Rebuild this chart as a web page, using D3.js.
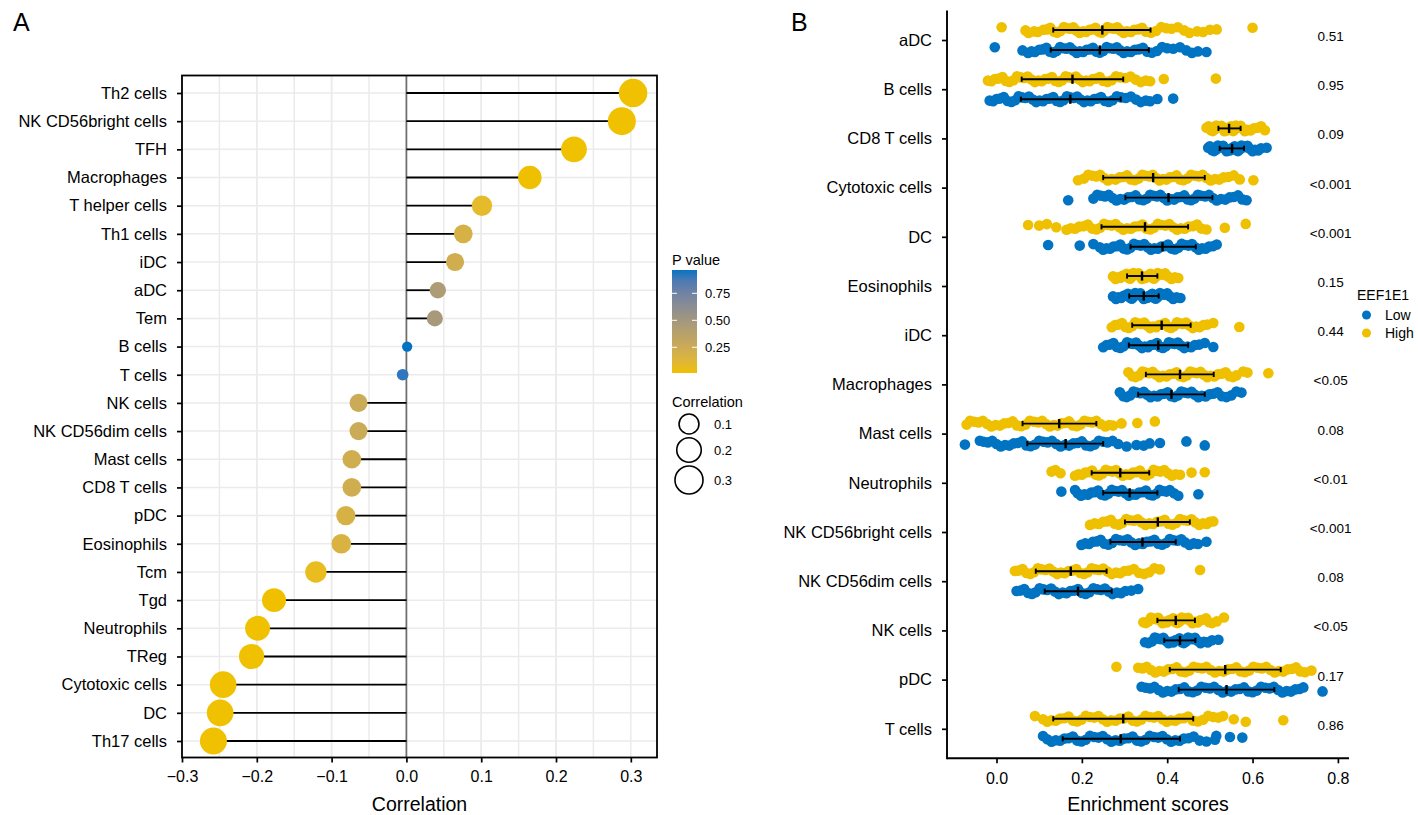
<!doctype html>
<html>
<head>
<meta charset="utf-8">
<title>Correlation and enrichment</title>
<script src="https://d3js.org/d3.v7.min.js"></script>
<style>
  body { margin: 0; background: #fff; }
  text { font-family: "Liberation Sans", Arial, sans-serif; fill: #000; }
</style>
</head>
<body>
<svg width="1418" height="815"></svg>
<script>
// ---- panel A data (top to bottom) ----
var cellsA = ["Th2 cells", "NK CD56bright cells", "TFH", "Macrophages", "T helper cells", "Th1 cells",
    "iDC", "aDC", "Tem", "B cells", "T cells", "NK cells", "NK CD56dim cells", "Mast cells",
    "CD8 T cells", "pDC", "Eosinophils", "Tcm", "Tgd", "Neutrophils", "TReg", "Cytotoxic cells",
    "DC", "Th17 cells"]
var corrA = [0.303, 0.288, 0.224, 0.165, 0.101, 0.076, 0.065, 0.042, 0.038, 0.001, -0.005, -0.064,
    -0.064, -0.073, -0.073, -0.081, -0.087, -0.121, -0.177, -0.199, -0.207, -0.245, -0.249, -0.258]
var pvalA = [0.001, 0.001, 0.001, 0.01, 0.08, 0.18, 0.22, 0.44, 0.47, 0.97, 0.93, 0.26, 0.26, 0.22,
    0.22, 0.18, 0.16, 0.05, 0.005, 0.001, 0.001, 0.001, 0.001, 0.001]
var xTicksA = [-0.3, -0.2, -0.1, 0.0, 0.1, 0.2, 0.3]
var pLegendTicks = [0.25, 0.50, 0.75]
var sizeLegend = [0.1, 0.2, 0.3]

// ---- panel B data ----
var cellsB = ["aDC", "B cells", "CD8 T cells", "Cytotoxic cells", "DC", "Eosinophils", "iDC",
    "Macrophages", "Mast cells", "Neutrophils", "NK CD56bright cells", "NK CD56dim cells",
    "NK cells", "pDC", "T cells"]
var groupsB = ["Low", "High"]
var pLabelsB = ["0.51", "0.95", "0.09", "<0.001", "<0.001", "0.15", "0.44", "<0.05", "0.08",
    "<0.01", "<0.001", "0.08", "<0.05", "0.17", "0.86"]
var xTicksB = [0.0, 0.2, 0.4, 0.6, 0.8]

// error bars: mean, mean - sd, mean + sd
var highMean = [0.248, 0.178, 0.545, 0.367, 0.348, 0.341, 0.387, 0.430, 0.147, 0.290, 0.378, 0.174, 0.420, 0.536, 0.297]
var highLo   = [0.133, 0.059, 0.520, 0.250, 0.246, 0.306, 0.318, 0.350, 0.061, 0.223, 0.301, 0.092, 0.377, 0.406, 0.133]
var highHi   = [0.361, 0.297, 0.572, 0.488, 0.449, 0.377, 0.455, 0.509, 0.234, 0.358, 0.453, 0.258, 0.465, 0.666, 0.461]
var lowMean  = [0.242, 0.173, 0.552, 0.403, 0.389, 0.345, 0.379, 0.410, 0.162, 0.312, 0.342, 0.191, 0.430, 0.539, 0.291]
var lowLo    = [0.127, 0.057, 0.523, 0.302, 0.314, 0.311, 0.310, 0.332, 0.072, 0.250, 0.267, 0.113, 0.393, 0.427, 0.155]
var lowHi    = [0.357, 0.291, 0.580, 0.506, 0.467, 0.380, 0.449, 0.488, 0.250, 0.377, 0.420, 0.270, 0.466, 0.651, 0.430]

var highScores = [
    [0.012, 0.068, 0.075, 0.088, 0.097, 0.11, 0.118, 0.126, 0.135, 0.142, 0.15, 0.158, 0.166, 0.172, 0.18, 0.187, 0.195, 0.203, 0.21, 0.218, 0.225, 0.232, 0.24, 0.246, 0.252, 0.26, 0.268, 0.275, 0.283, 0.29, 0.298, 0.306, 0.315, 0.323, 0.332, 0.341, 0.35, 0.362, 0.374, 0.386, 0.398, 0.41, 0.425, 0.44, 0.452, 0.47, 0.484, 0.5, 0.516, 0.6],
    [-0.02, -0.012, -0.004, 0.005, 0.014, 0.022, 0.03, 0.04, 0.048, 0.057, 0.065, 0.073, 0.082, 0.09, 0.098, 0.106, 0.114, 0.122, 0.13, 0.138, 0.146, 0.154, 0.162, 0.17, 0.178, 0.186, 0.194, 0.202, 0.21, 0.218, 0.226, 0.234, 0.242, 0.25, 0.26, 0.27, 0.28, 0.29, 0.302, 0.314, 0.326, 0.338, 0.35, 0.36, 0.392, 0.514],
    [0.492, 0.497, 0.502, 0.507, 0.511, 0.515, 0.519, 0.523, 0.527, 0.531, 0.534, 0.537, 0.54, 0.543, 0.546, 0.549, 0.552, 0.555, 0.558, 0.561, 0.564, 0.568, 0.572, 0.577, 0.582, 0.588, 0.595, 0.603, 0.612, 0.62, 0.629],
    [0.191, 0.205, 0.215, 0.225, 0.234, 0.243, 0.252, 0.261, 0.27, 0.279, 0.288, 0.297, 0.306, 0.315, 0.324, 0.333, 0.342, 0.35, 0.358, 0.366, 0.374, 0.382, 0.39, 0.398, 0.406, 0.414, 0.422, 0.43, 0.438, 0.447, 0.456, 0.465, 0.474, 0.483, 0.492, 0.502, 0.512, 0.522, 0.532, 0.543, 0.556, 0.57, 0.602],
    [0.074, 0.1, 0.118, 0.14, 0.164, 0.174, 0.184, 0.194, 0.204, 0.214, 0.224, 0.234, 0.243, 0.252, 0.261, 0.27, 0.279, 0.288, 0.297, 0.306, 0.315, 0.324, 0.333, 0.342, 0.351, 0.36, 0.369, 0.378, 0.387, 0.396, 0.405, 0.414, 0.423, 0.432, 0.441, 0.45, 0.46, 0.47, 0.48, 0.492, 0.535, 0.584],
    [0.273, 0.279, 0.285, 0.29, 0.295, 0.3, 0.305, 0.309, 0.313, 0.317, 0.321, 0.325, 0.329, 0.333, 0.337, 0.341, 0.345, 0.349, 0.353, 0.357, 0.361, 0.365, 0.369, 0.373, 0.378, 0.383, 0.389, 0.395, 0.402, 0.41, 0.418, 0.426],
    [0.27, 0.278, 0.286, 0.294, 0.302, 0.31, 0.318, 0.325, 0.332, 0.339, 0.346, 0.353, 0.36, 0.367, 0.374, 0.381, 0.388, 0.395, 0.402, 0.409, 0.416, 0.423, 0.43, 0.437, 0.444, 0.452, 0.46, 0.468, 0.476, 0.485, 0.494, 0.508, 0.569],
    [0.309, 0.318, 0.326, 0.334, 0.342, 0.35, 0.358, 0.366, 0.374, 0.382, 0.39, 0.398, 0.406, 0.414, 0.422, 0.43, 0.438, 0.446, 0.454, 0.462, 0.47, 0.478, 0.486, 0.494, 0.502, 0.51, 0.519, 0.528, 0.537, 0.546, 0.554, 0.562, 0.578, 0.588, 0.637],
    [-0.07, -0.062, -0.052, -0.042, -0.032, -0.022, -0.012, -0.002, 0.008, 0.018, 0.028, 0.038, 0.048, 0.058, 0.068, 0.078, 0.088, 0.098, 0.107, 0.116, 0.125, 0.134, 0.143, 0.152, 0.161, 0.17, 0.179, 0.188, 0.197, 0.206, 0.215, 0.224, 0.234, 0.244, 0.255, 0.264, 0.273, 0.293, 0.33, 0.371],
    [0.129, 0.138, 0.15, 0.184, 0.192, 0.2, 0.208, 0.216, 0.224, 0.232, 0.24, 0.248, 0.256, 0.264, 0.272, 0.28, 0.288, 0.296, 0.304, 0.312, 0.32, 0.328, 0.336, 0.344, 0.352, 0.36, 0.368, 0.376, 0.384, 0.393, 0.402, 0.411, 0.42, 0.43, 0.457, 0.488],
    [0.219, 0.23, 0.24, 0.25, 0.259, 0.268, 0.277, 0.286, 0.295, 0.304, 0.313, 0.322, 0.331, 0.34, 0.349, 0.358, 0.367, 0.376, 0.385, 0.394, 0.403, 0.412, 0.421, 0.43, 0.439, 0.448, 0.457, 0.466, 0.475, 0.484, 0.493, 0.5, 0.508],
    [0.043, 0.052, 0.061, 0.07, 0.079, 0.088, 0.097, 0.106, 0.115, 0.124, 0.133, 0.142, 0.151, 0.16, 0.169, 0.178, 0.187, 0.196, 0.205, 0.214, 0.223, 0.232, 0.241, 0.25, 0.26, 0.27, 0.28, 0.29, 0.3, 0.31, 0.322, 0.334, 0.346, 0.358, 0.37, 0.383, 0.477],
    [0.344, 0.35, 0.356, 0.362, 0.368, 0.374, 0.379, 0.384, 0.389, 0.394, 0.399, 0.404, 0.409, 0.414, 0.419, 0.424, 0.429, 0.434, 0.439, 0.444, 0.449, 0.454, 0.459, 0.465, 0.471, 0.477, 0.484, 0.491, 0.498, 0.505, 0.516, 0.533],
    [0.281, 0.332, 0.342, 0.352, 0.362, 0.372, 0.382, 0.392, 0.402, 0.412, 0.422, 0.432, 0.442, 0.452, 0.462, 0.472, 0.482, 0.492, 0.502, 0.512, 0.522, 0.532, 0.542, 0.552, 0.562, 0.572, 0.582, 0.592, 0.602, 0.612, 0.622, 0.632, 0.642, 0.652, 0.662, 0.672, 0.682, 0.692, 0.702, 0.712, 0.723, 0.738],
    [0.09, 0.109, 0.119, 0.129, 0.139, 0.149, 0.159, 0.169, 0.179, 0.189, 0.199, 0.209, 0.219, 0.229, 0.239, 0.249, 0.259, 0.269, 0.279, 0.289, 0.299, 0.309, 0.319, 0.329, 0.339, 0.349, 0.359, 0.369, 0.379, 0.389, 0.399, 0.409, 0.419, 0.429, 0.439, 0.449, 0.46, 0.472, 0.484, 0.496, 0.508, 0.52, 0.531, 0.556, 0.584, 0.672]
]
var lowScores = [
    [-0.004, 0.061, 0.074, 0.082, 0.09, 0.1, 0.108, 0.117, 0.125, 0.133, 0.141, 0.149, 0.157, 0.164, 0.172, 0.18, 0.188, 0.195, 0.203, 0.211, 0.219, 0.226, 0.234, 0.242, 0.25, 0.258, 0.266, 0.274, 0.282, 0.29, 0.298, 0.306, 0.315, 0.324, 0.333, 0.343, 0.353, 0.364, 0.376, 0.388, 0.4, 0.414, 0.43, 0.445, 0.458, 0.472, 0.492],
    [-0.016, -0.008, 0.0, 0.008, 0.017, 0.026, 0.035, 0.044, 0.052, 0.06, 0.068, 0.076, 0.085, 0.093, 0.101, 0.109, 0.117, 0.125, 0.133, 0.141, 0.149, 0.157, 0.165, 0.173, 0.181, 0.189, 0.197, 0.205, 0.213, 0.221, 0.229, 0.237, 0.245, 0.254, 0.263, 0.272, 0.282, 0.292, 0.303, 0.315, 0.327, 0.338, 0.35, 0.36, 0.377, 0.414],
    [0.496, 0.5, 0.505, 0.51, 0.515, 0.519, 0.523, 0.527, 0.531, 0.535, 0.539, 0.543, 0.547, 0.551, 0.554, 0.558, 0.562, 0.566, 0.57, 0.574, 0.578, 0.583, 0.588, 0.594, 0.6, 0.606, 0.613, 0.62, 0.633],
    [0.168, 0.227, 0.236, 0.245, 0.254, 0.263, 0.272, 0.281, 0.29, 0.299, 0.308, 0.317, 0.326, 0.335, 0.344, 0.352, 0.36, 0.368, 0.376, 0.384, 0.392, 0.4, 0.408, 0.416, 0.424, 0.432, 0.44, 0.448, 0.456, 0.464, 0.472, 0.48, 0.489, 0.498, 0.507, 0.516, 0.526, 0.536, 0.546, 0.556, 0.566, 0.576, 0.586],
    [0.121, 0.195, 0.227, 0.242, 0.25, 0.258, 0.266, 0.274, 0.282, 0.29, 0.298, 0.306, 0.314, 0.322, 0.33, 0.338, 0.346, 0.354, 0.362, 0.37, 0.378, 0.386, 0.394, 0.402, 0.41, 0.418, 0.426, 0.434, 0.442, 0.45, 0.458, 0.466, 0.474, 0.482, 0.49, 0.498, 0.507, 0.516],
    [0.273, 0.28, 0.286, 0.292, 0.298, 0.303, 0.308, 0.313, 0.317, 0.321, 0.325, 0.329, 0.333, 0.337, 0.341, 0.345, 0.349, 0.353, 0.357, 0.361, 0.365, 0.369, 0.373, 0.378, 0.383, 0.388, 0.394, 0.4, 0.407, 0.414, 0.422, 0.431],
    [0.25, 0.258, 0.266, 0.274, 0.282, 0.29, 0.298, 0.306, 0.313, 0.32, 0.327, 0.334, 0.341, 0.348, 0.355, 0.362, 0.369, 0.376, 0.383, 0.39, 0.397, 0.404, 0.411, 0.418, 0.425, 0.432, 0.44, 0.448, 0.456, 0.465, 0.475, 0.488, 0.508],
    [0.289, 0.297, 0.305, 0.313, 0.321, 0.329, 0.337, 0.345, 0.353, 0.361, 0.369, 0.377, 0.385, 0.393, 0.401, 0.409, 0.417, 0.425, 0.433, 0.441, 0.449, 0.457, 0.465, 0.473, 0.481, 0.49, 0.499, 0.508, 0.518, 0.528, 0.539, 0.55, 0.562, 0.574],
    [-0.074, -0.039, -0.03, -0.02, -0.01, 0.0, 0.01, 0.02, 0.03, 0.04, 0.05, 0.06, 0.07, 0.08, 0.09, 0.1, 0.11, 0.12, 0.13, 0.14, 0.15, 0.16, 0.17, 0.18, 0.19, 0.2, 0.21, 0.22, 0.23, 0.24, 0.25, 0.26, 0.272, 0.285, 0.305, 0.328, 0.345, 0.359, 0.383, 0.445, 0.488],
    [0.152, 0.184, 0.19, 0.198, 0.206, 0.214, 0.222, 0.23, 0.238, 0.246, 0.254, 0.262, 0.27, 0.278, 0.286, 0.294, 0.302, 0.31, 0.318, 0.326, 0.334, 0.342, 0.35, 0.358, 0.366, 0.374, 0.382, 0.39, 0.398, 0.406, 0.416, 0.426, 0.473],
    [0.199, 0.208, 0.217, 0.226, 0.235, 0.244, 0.253, 0.262, 0.271, 0.28, 0.289, 0.298, 0.307, 0.316, 0.325, 0.334, 0.343, 0.352, 0.361, 0.37, 0.379, 0.388, 0.397, 0.406, 0.415, 0.424, 0.433, 0.442, 0.452, 0.462, 0.472, 0.492],
    [0.047, 0.056, 0.065, 0.074, 0.083, 0.092, 0.101, 0.11, 0.119, 0.128, 0.137, 0.146, 0.155, 0.164, 0.173, 0.182, 0.191, 0.2, 0.209, 0.218, 0.227, 0.236, 0.245, 0.254, 0.263, 0.272, 0.282, 0.292, 0.302, 0.316, 0.332],
    [0.348, 0.356, 0.364, 0.371, 0.378, 0.385, 0.391, 0.397, 0.403, 0.409, 0.414, 0.419, 0.424, 0.429, 0.434, 0.439, 0.444, 0.449, 0.454, 0.459, 0.465, 0.471, 0.478, 0.486, 0.495, 0.505, 0.52],
    [0.34, 0.35, 0.36, 0.37, 0.38, 0.39, 0.4, 0.41, 0.42, 0.43, 0.44, 0.45, 0.46, 0.47, 0.48, 0.49, 0.5, 0.51, 0.52, 0.53, 0.54, 0.55, 0.56, 0.57, 0.58, 0.59, 0.6, 0.61, 0.62, 0.63, 0.64, 0.65, 0.66, 0.67, 0.68, 0.69, 0.7, 0.71, 0.719, 0.764],
    [0.109, 0.119, 0.129, 0.139, 0.149, 0.159, 0.169, 0.179, 0.189, 0.199, 0.209, 0.219, 0.229, 0.239, 0.249, 0.259, 0.269, 0.279, 0.289, 0.299, 0.309, 0.319, 0.329, 0.339, 0.349, 0.359, 0.369, 0.379, 0.389, 0.399, 0.409, 0.419, 0.429, 0.439, 0.45, 0.462, 0.476, 0.492, 0.512, 0.515, 0.547, 0.576]
]

var svg = d3.select("svg")
var yellow = "#EFC000"
var blue = "#0073C2"
var grid_color = "#EBEBEB"
var label_font = "'Liberation Sans', Arial, sans-serif"

// =============== panel A: lollipop ===============
svg.append("text")
    .attr("x", 13).attr("y", 31)
    .attr("font-size", "25px")
    .style("font-family", "'Liberation Sans Narrow', 'Liberation Sans', sans-serif")
    .text("A")

var xA = d3.scaleLinear().domain([-0.3, 0.335]).range([182, 657])
var yA = d3.scalePoint().domain(cellsA).range([93, 741])
var colorA = d3.scaleLinear().domain([0.01, 0.97]).range([yellow, blue]).interpolate(d3.interpolateLab)
var sizeA = d3.scaleSqrt().domain([0, 0.305]).range([4.6, 14.3])
var topA = 75.5, bottomA = 757.5

var gA = svg.append("g")

// grid: major + minor verticals, horizontals at each category
var gridX = d3.range(-0.25, 0.3, 0.05).concat(xTicksA)
gA.selectAll(".vgrid")
    .data(gridX)
    .enter().append("line")
    .attr("x1", function(d) { return xA(d); }).attr("x2", function(d) { return xA(d); })
    .attr("y1", topA).attr("y2", bottomA)
    .attr("stroke", grid_color).attr("stroke-width", 1.5)
gA.selectAll(".hgrid")
    .data(cellsA)
    .enter().append("line")
    .attr("x1", xA.range()[0]).attr("x2", xA.range()[1])
    .attr("y1", function(d) { return yA(d); }).attr("y2", function(d) { return yA(d); })
    .attr("stroke", grid_color).attr("stroke-width", 1.5)

// zero line
gA.append("line")
    .attr("x1", xA(0)).attr("x2", xA(0))
    .attr("y1", topA).attr("y2", bottomA)
    .attr("stroke", "#6f6f6f").attr("stroke-width", 1.7)

// segments + points
gA.selectAll(".seg")
    .data(cellsA)
    .enter().append("line")
    .attr("x1", xA(0))
    .attr("x2", function(d, i) { return xA(corrA[i]); })
    .attr("y1", function(d) { return yA(d); }).attr("y2", function(d) { return yA(d); })
    .attr("stroke", "#000").attr("stroke-width", 1.8)
gA.selectAll(".pt")
    .data(cellsA)
    .enter().append("circle")
    .attr("cx", function(d, i) { return xA(corrA[i]); })
    .attr("cy", function(d) { return yA(d); })
    .attr("r", function(d, i) { return sizeA(Math.abs(corrA[i])); })
    .attr("fill", function(d, i) { return colorA(pvalA[i]); })

// border
gA.append("rect")
    .attr("x", xA.range()[0]).attr("y", topA)
    .attr("width", xA.range()[1] - xA.range()[0]).attr("height", bottomA - topA)
    .attr("fill", "none").attr("stroke", "#000").attr("stroke-width", 1.8)

var axA = gA.append("g")
    .attr("transform", "translate(0," + bottomA + ")")
    .call(d3.axisBottom(xA).tickValues(xTicksA).tickFormat(d3.format(".1f")).tickSize(5).tickPadding(8))
axA.select(".domain").remove()
axA.selectAll("line").attr("stroke-width", 1.7)
axA.selectAll("text").attr("font-size", "16px").style("font-family", label_font)

var ayA = gA.append("g")
    .attr("transform", "translate(" + xA.range()[0] + ",0)")
    .call(d3.axisLeft(yA).tickSize(5).tickPadding(10))
ayA.select(".domain").remove()
ayA.selectAll("line").attr("stroke-width", 1.7)
ayA.selectAll("text").attr("font-size", "16.5px").style("font-family", label_font)

svg.append("text")
    .attr("x", (xA.range()[0] + xA.range()[1]) / 2).attr("y", 811)
    .attr("text-anchor", "middle").attr("font-size", "19.5px")
    .text("Correlation")

// legend A: P value colour bar
var legA = svg.append("g")
legA.append("text").attr("x", 672).attr("y", 265).attr("font-size", "14.5px").text("P value")
var barTop = 270, barBottom = 373, barLeft = 672, barW = 25
var pBar = d3.scaleLinear().domain([0.012, 0.966]).range([barBottom, barTop])
var defs = svg.append("defs")
var grad = defs.append("linearGradient").attr("id", "pgrad")
    .attr("x1", "0").attr("y1", "1").attr("x2", "0").attr("y2", "0")
d3.range(0, 1.0001, 0.1).forEach(function(t) {
    var p = 0.012 + t * (0.966 - 0.012)
    grad.append("stop").attr("offset", t).attr("stop-color", colorA(p))
})
legA.append("rect")
    .attr("x", barLeft).attr("y", barTop).attr("width", barW).attr("height", barBottom - barTop)
    .attr("fill", "url(#pgrad)")
legA.selectAll(".tkl")
    .data(pLegendTicks)
    .enter().append("line")
    .attr("x1", barLeft).attr("x2", barLeft + 5)
    .attr("y1", function(d) { return pBar(d); }).attr("y2", function(d) { return pBar(d); })
    .attr("stroke", "#fff").attr("stroke-width", 1)
legA.selectAll(".tkr")
    .data(pLegendTicks)
    .enter().append("line")
    .attr("x1", barLeft + barW - 5).attr("x2", barLeft + barW)
    .attr("y1", function(d) { return pBar(d); }).attr("y2", function(d) { return pBar(d); })
    .attr("stroke", "#fff").attr("stroke-width", 1)
legA.selectAll(".tkt")
    .data(pLegendTicks)
    .enter().append("text")
    .attr("x", 705).attr("y", function(d) { return pBar(d) + 4.8; })
    .attr("font-size", "13px")
    .text(function(d) { return d3.format(".2f")(d); })

// legend A: correlation size
legA.append("text").attr("x", 672).attr("y", 407).attr("font-size", "14.5px").text("Correlation")
var sizeRows = [424, 450, 480]
legA.selectAll(".szc")
    .data(sizeLegend)
    .enter().append("circle")
    .attr("cx", 689).attr("cy", function(d, i) { return sizeRows[i]; })
    .attr("r", function(d) { return sizeA(d) - 0.2; })
    .attr("fill", "none").attr("stroke", "#000").attr("stroke-width", 1.6)
legA.selectAll(".szt")
    .data(sizeLegend)
    .enter().append("text")
    .attr("x", 714).attr("y", function(d, i) { return sizeRows[i] + 4.8; })
    .attr("font-size", "13px")
    .text(function(d) { return d3.format(".1f")(d); })

// =============== panel B: jittered dot plot ===============
svg.append("text")
    .attr("x", 791).attr("y", 31)
    .attr("font-size", "25px")
    .style("font-family", "'Liberation Sans Narrow', 'Liberation Sans', sans-serif")
    .text("B")

var xB = d3.scaleLinear().domain([-0.116, 0.826]).range([947, 1349])
var yB = d3.scalePoint().domain(cellsB).range([40, 728.8])
var dodge = d3.scaleOrdinal().domain(groupsB).range([10, -10])
var colorB = d3.scaleOrdinal().domain(groupsB).range([blue, yellow])
var bottomB = 758.3, topB = 10.5
// fixed vertical jitter pattern (px)
var jitter = [-2.7, 1.4, -0.6, 2.7, -1.8, 0.4, 2.0, -2.2, 1.0, -1.2, 2.9, -0.2, 1.8, -2.9]

var gB = svg.append("g")

function dotGroup(scores, group) {
    cellsB.forEach(function(cell, ci) {
        gB.append("g").selectAll("circle")
            .data(scores[ci])
            .enter().append("circle")
            .attr("cx", function(d) { return xB(d); })
            .attr("cy", function(d, i) { return yB(cell) + dodge(group) + jitter[(i * 5 + ci) % jitter.length]; })
            .attr("r", 5.3)
            .attr("fill", colorB(group))
    })
}
dotGroup(highScores, "High")
dotGroup(lowScores, "Low")

function errorBars(mean, lo, hi, group) {
    cellsB.forEach(function(cell, ci) {
        var y = yB(cell) + dodge(group)
        var g = gB.append("g").attr("stroke", "#000").attr("stroke-width", 1.9)
        g.append("line").attr("x1", xB(lo[ci])).attr("x2", xB(hi[ci])).attr("y1", y).attr("y2", y)
        g.append("line").attr("x1", xB(lo[ci])).attr("x2", xB(lo[ci])).attr("y1", y - 2.6).attr("y2", y + 2.6)
        g.append("line").attr("x1", xB(hi[ci])).attr("x2", xB(hi[ci])).attr("y1", y - 2.6).attr("y2", y + 2.6)
        g.append("line").attr("x1", xB(mean[ci])).attr("x2", xB(mean[ci])).attr("y1", y - 4.6).attr("y2", y + 4.6)
            .attr("stroke-width", 2.4)
    })
}
errorBars(highMean, highLo, highHi, "High")
errorBars(lowMean, lowLo, lowHi, "Low")

// p-value labels
gB.selectAll(".plab")
    .data(cellsB)
    .enter().append("text")
    .attr("x", xB(0.783))
    .attr("y", function(d) { return yB(d) + 1; })
    .attr("text-anchor", "middle").attr("font-size", "13.5px")
    .text(function(d, i) { return pLabelsB[i]; })

// axes (classic)
var axB = gB.append("g")
    .attr("transform", "translate(0," + bottomB + ")")
    .call(d3.axisBottom(xB).tickValues(xTicksB).tickFormat(d3.format(".1f")).tickSize(5).tickPadding(9))
axB.select(".domain").remove()
axB.selectAll("line").attr("stroke-width", 1.7)
axB.selectAll("text").attr("font-size", "16px").style("font-family", label_font)

var ayB = gB.append("g")
    .attr("transform", "translate(" + xB.range()[0] + ",0)")
    .call(d3.axisLeft(yB).tickSize(5).tickPadding(10))
ayB.select(".domain").remove()
ayB.selectAll("line").attr("stroke-width", 1.7)
ayB.selectAll("text").attr("font-size", "16.5px").style("font-family", label_font)

gB.append("line")
    .attr("x1", xB.range()[0]).attr("x2", xB.range()[1])
    .attr("y1", bottomB).attr("y2", bottomB)
    .attr("stroke", "#000").attr("stroke-width", 1.9)
gB.append("line")
    .attr("x1", xB.range()[0]).attr("x2", xB.range()[0])
    .attr("y1", topB).attr("y2", bottomB + 0.9)
    .attr("stroke", "#000").attr("stroke-width", 1.9)

svg.append("text")
    .attr("x", (xB.range()[0] + xB.range()[1]) / 2).attr("y", 811)
    .attr("text-anchor", "middle").attr("font-size", "19.5px")
    .text("Enrichment scores")

// legend B
var legB = svg.append("g")
legB.append("text").attr("x", 1357).attr("y", 300).attr("font-size", "14px").text("EEF1E1")
var legRows = [315, 333]
legB.selectAll(".lgc")
    .data(groupsB)
    .enter().append("circle")
    .attr("cx", 1366.5).attr("cy", function(d, i) { return legRows[i]; })
    .attr("r", 4.5).attr("fill", function(d) { return colorB(d); })
legB.selectAll(".lgt")
    .data(groupsB)
    .enter().append("text")
    .attr("x", 1385).attr("y", function(d, i) { return legRows[i] + 5; })
    .attr("font-size", "14px")
    .text(function(d) { return d; })
</script>
</body>
</html>
